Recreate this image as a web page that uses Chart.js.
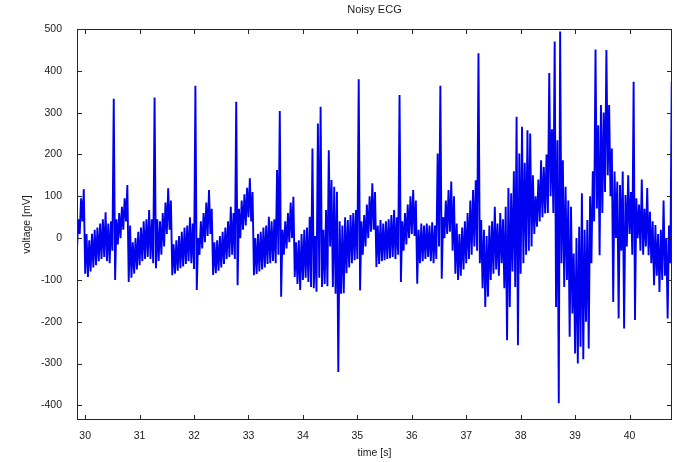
<!DOCTYPE html>
<html>
<head>
<meta charset="utf-8">
<title>Noisy ECG</title>
<script src="https://cdn.jsdelivr.net/npm/chart.js@4/dist/chart.umd.min.js"></script>
<style>
  html, body { margin: 0; padding: 0; background: #fff; }
  canvas { display: block; }
</style>
</head>
<body>
<canvas id="ecgChart" width="677" height="462"></canvas>
<script>
// trace is stored as 50 ms bins: low point, then high point half a bin later
const sampleStart = 29.85; // s
const sampleStep = 0.05;   // s

const lowerTrace = [
  -25, 10, 40, -85, -93, -80, -70, -65, -55, -50,
  -45, -55, -60, -30, -100, -15, 0, 20, 40, -105,
  -95, -85, -75, -65, -55, -50, -45, -50, -60, -72,
  -55, -40, -20, 10, 20, -89, -85, -78, -72, -68,
  -62, -55, -60, -74, -124, -40, -25, -10, 5, 10,
  -88, -84, -78, -70, -62, -50, -45, -40, -50, -113,
  0, 20, 30, 50, 40, -89, -86, -80, -75, -70,
  -62, -60, -55, -60, -40, -140, -40, -25, -10, 0,
  -93, -110, -124, -100, -95, -105, -117, -120, -128, -95,
  -117, -110, -115, -20, -117, -133, -320, -133, -132, -84,
  -70, -60, -53, -50, -125, -40, -20, 0, 15, 20,
  -69, -62, -55, -53, -50, -48, -45, -50, -40, -105,
  -30, -15, 0, 10, 5, -109, -60, -55, -50, -45,
  -55, -60, -50, -20, -97, 0, 10, 15, -30, -85,
  -100, -90, -75, -60, -50, -40, -20, -30, -60, -120,
  -165, -140, -100, -85, -75, -90, -60, -120, -244, -165,
  -80, -117, -256, -85, -60, -40, -30, -20, 10, 27,
  40, 50, 59, 60, 100, 60, -165, -395, -60, -117,
  -100, -236, -180, -276, -300, -260, -290, -200, -264, -60,
  40, 71, -41, 60, 110, 150, 100, -153, 0, -192,
  -30, -216, -20, 10, -40, -196, 0, -30, -40, -20,
  -41, -60, -113, -90, -129, -100, -90, -192, -60
];

const upperTrace = [
  45, 95, 117, 10, -5, 10, 20, 25, 35, 45,
  62, 35, 40, 333, 45, 60, 75, 95, 127, 30,
  -10, 0, 15, 25, 40, 45, 67, 45, 336, 45,
  40, 60, 85, 119, 90, -15, -5, 5, 15, 25,
  30, 50, 35, 364, 0, 40, 60, 85, 115, 70,
  -10, -5, 5, 15, 25, 40, 75, 60, 326, 70,
  90, 105, 120, 143, 110, 0, 10, 15, 25, 30,
  51, 40, 45, 163, 304, 20, 40, 60, 85, 99,
  -10, -5, 10, 20, 25, 51, 214, 5, 274, 314,
  20, 67, 210, 139, 123, 111, 40, 30, 50, 43,
  55, 60, 67, 380, 40, 55, 80, 100, 131, 110,
  30, 43, 35, 40, 45, 55, 67, 50, 342, 40,
  60, 80, 100, 115, 90, 20, 35, 30, 35, 30,
  38, 30, 202, 364, 50, 90, 115, 135, 100, 35,
  10, 25, 40, 60, 90, 115, 138, 442, 43, 20,
  5, 30, 40, 75, 35, 60, 45, 75, 120, 107,
  160, 290, 202, 266, 180, 258, 250, 150, 100, 140,
  186, 170, 200, 395, 260, 470, 234, 494, 186, 123,
  90, 75, -37, 0, 27, 107, 20, 43, 100, 160,
  451, 270, 318, 300, 450, 318, 214, 159, 135, 127,
  159, 103, 150, 110, 374, 95, 80, 140, 70, 120,
  63, 40, 31, 10, 20, 90, 0, 30, 374
];

const xTicks = [30, 31, 32, 33, 34, 35, 36, 37, 38, 39, 40];
const yTicks = [-400, -300, -200, -100, 0, 100, 200, 300, 400, 500];

const xMin = 29.85, xMax = 40.78;
const yMin = -435, yMax = 500;

const points = [];
lowerTrace.forEach((lo, i) => {
  const t = sampleStart + i * sampleStep;
  points.push({ x: t, y: lo });
  points.push({ x: t + sampleStep / 2, y: upperTrace[i] });
});

const textColor = '#1a1a1a';
const axisColor = '#262626';
const fontFamily = "'Liberation Sans', Arial, Helvetica, sans-serif";

// box round the plot with inward tick marks on all four sides
const boxAxes = {
  id: 'boxAxes',
  afterDatasetsDraw(chart) {
    const { ctx, chartArea: a, scales } = chart;
    const tick = 5;
    ctx.save();
    ctx.strokeStyle = axisColor;
    ctx.lineWidth = 1;
    ctx.strokeRect(a.left + 0.5, a.top + 0.5, a.right - a.left - 1, a.bottom - a.top - 1);
    ctx.beginPath();
    xTicks.forEach(v => {
      const px = Math.round(scales.x.getPixelForValue(v)) + 0.5;
      ctx.moveTo(px, a.bottom); ctx.lineTo(px, a.bottom - tick);
      ctx.moveTo(px, a.top); ctx.lineTo(px, a.top + tick);
    });
    yTicks.forEach(v => {
      const py = Math.round(scales.y.getPixelForValue(v)) + 0.5;
      ctx.moveTo(a.left, py); ctx.lineTo(a.left + tick, py);
      ctx.moveTo(a.right, py); ctx.lineTo(a.right - tick, py);
    });
    ctx.stroke();
    ctx.restore();
  }
};

new Chart(document.getElementById('ecgChart'), {
  type: 'line',
  data: {
    datasets: [{
      data: points,
      borderColor: '#0000f0',
      borderWidth: 1.9,
      borderJoinStyle: 'bevel',
      pointRadius: 0,
      tension: 0,
      fill: false
    }]
  },
  options: {
    responsive: false,
    animation: false,
    devicePixelRatio: 1,
    layout: { padding: { left: 0, right: 5, top: 0, bottom: 0 } },
    plugins: {
      legend: { display: false },
      tooltip: { enabled: false },
      title: {
        display: true,
        text: 'Noisy ECG',
        fullSize: false,
        color: textColor,
        font: { family: fontFamily, size: 11, weight: 'normal' },
        padding: { top: 3.5, bottom: 12.3 }
      }
    },
    scales: {
      x: {
        type: 'linear',
        min: xMin,
        max: xMax,
        afterBuildTicks: s => { s.ticks = xTicks.map(v => ({ value: v })); },
        afterFit: s => { s.height = 42; },
        grid: { display: false, drawTicks: false },
        border: { display: false },
        ticks: {
          padding: 10,
          color: textColor,
          font: { family: fontFamily, size: 10.5 },
          callback: v => String(v)
        },
        title: {
          display: true,
          text: 'time [s]',
          color: textColor,
          font: { family: fontFamily, size: 10.5 },
          padding: { top: 0, bottom: 3 }
        }
      },
      y: {
        min: yMin,
        max: yMax,
        afterBuildTicks: s => { s.ticks = yTicks.map(v => ({ value: v })); },
        afterFit: s => { s.width = 77; },
        grid: { display: false, drawTicks: false },
        border: { display: false },
        ticks: {
          padding: 15,
          color: textColor,
          font: { family: fontFamily, size: 10.5 },
          callback: v => String(v)
        },
        title: {
          display: true,
          text: 'voltage [mV]',
          color: textColor,
          font: { family: fontFamily, size: 10.5 },
          padding: { top: 21, bottom: 0 }
        }
      }
    }
  },
  plugins: [boxAxes]
});
</script>
</body>
</html>
